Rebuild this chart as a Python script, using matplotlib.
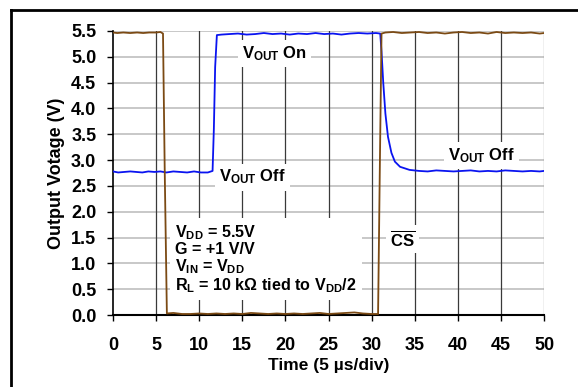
import matplotlib
matplotlib.use("Agg")
from matplotlib import pyplot as plt
from matplotlib.lines import Line2D

plt.rcParams['font.family'] = ['Liberation Sans', 'DejaVu Sans']
plt.rcParams['font.weight'] = 'bold'
plt.rcParams['mathtext.fontset'] = 'custom'
plt.rcParams['mathtext.rm'] = 'Liberation Sans:bold'
plt.rcParams['mathtext.bf'] = 'Liberation Sans:bold'
plt.rcParams['mathtext.it'] = 'Liberation Sans:bold'

# CS input (brown)
cs_t = [0, 0.5, 1.2, 2, 2.8, 3.5, 4.2, 5, 5.5, 5.8, 6.0, 6.25, 7, 8, 9, 10, 11, 12, 13,
        14, 15, 16, 17, 18, 19, 20, 21, 22, 23, 24, 25, 26, 27, 28, 29, 30, 30.75,
        30.95, 31.15, 31.6, 32.5, 33.5, 34.5, 35.5, 36.5, 37.5, 38.5, 39.5, 40.5,
        41.5, 42.5, 43.5, 44.5, 45.5, 46.5, 47.5, 48.5, 49.5, 50]
cs_v = [5.47, 5.46, 5.47, 5.46, 5.47, 5.46, 5.47, 5.47, 5.48, 5.45, 2.8, 0.03, 0.04, 0.02,
        0.02, 0.03, 0.02, 0.03, 0.02, 0.03, 0.02, 0.04, 0.03, 0.02, 0.03, 0.02, 0.03,
        0.02, 0.03, 0.04, 0.02, 0.03, 0.04, 0.05, 0.03, 0.02, 0.02,
        2.8, 5.45, 5.47, 5.48, 5.46, 5.47, 5.48, 5.46, 5.47, 5.45, 5.47, 5.48,
        5.46, 5.47, 5.45, 5.48, 5.46, 5.47, 5.46, 5.47, 5.45, 5.46]

# Vout (blue)
vo_t = [0, 0.6, 1.3, 2, 2.7, 3.4, 4.1, 4.8, 5.5, 6.2, 7, 7.8, 8.6, 9.4, 10.2, 11, 11.55,
        11.7, 11.85, 12.05, 12.6, 13.5, 14.5, 15.5, 16.5, 17.5, 18.5, 19.5, 20.5,
        21.5, 22.5, 23.5, 24.5, 25.5, 26.5, 27.5, 28.5, 29.5, 30.5, 31.0,
        31.15, 31.35, 31.6, 31.9, 32.3, 32.7, 33.3, 34.4, 35.5, 36.5, 37.5, 38.5,
        39.5, 40.5, 41.5, 42.5, 43.5, 44.5, 45.5, 46.5, 47.5, 48.5, 49.5, 50]
vo_v = [2.78, 2.76, 2.77, 2.78, 2.77, 2.76, 2.78, 2.77, 2.78, 2.76, 2.78, 2.77, 2.76,
        2.78, 2.76, 2.76, 2.79,
        3.6, 4.8, 5.42, 5.43, 5.44, 5.45, 5.43, 5.44, 5.46, 5.44, 5.45, 5.43,
        5.45, 5.44, 5.46, 5.44, 5.45, 5.43, 5.45, 5.46, 5.45, 5.46, 5.45,
        5.1, 4.5, 3.9, 3.45, 3.14, 2.97, 2.87, 2.81, 2.79, 2.78, 2.80, 2.79,
        2.78, 2.79, 2.80, 2.78, 2.79, 2.78, 2.80, 2.79, 2.78, 2.79, 2.78, 2.79]

x_ticks = list(range(0, 55, 5))
y_ticks = [i * 0.5 for i in range(12)]

fig = plt.figure(figsize=(5.78, 3.87), dpi=100)
ax = fig.add_axes([0.1955, 0.186, 0.7457, 0.734])

for y in y_ticks[1:]:
    ax.axhline(y, color='#c8c8c8', lw=1.4, zorder=1)
for x in x_ticks[1:]:
    ax.axvline(x, color='#8a8a8a' if x == 50 else '#3a3a3a', lw=0.9, zorder=1)

ax.plot(vo_t, vo_v, color='#0a14f0', lw=1.3, zorder=3)
ax.plot(cs_t, cs_v, color='#7b4a14', lw=1.3, zorder=4)

ax.set_xlim(0, 50)
ax.set_ylim(0, 5.5)
ax.set_xticks(x_ticks)
ax.set_yticks(y_ticks)
ax.set_yticklabels([f'{v:.1f}' for v in y_ticks])
ax.tick_params(axis='both', labelsize=13, length=4, width=1, color='black')
ax.tick_params(axis='y', pad=8)
ax.tick_params(axis='x', pad=12)
for s in ['top', 'right']:
    ax.spines[s].set_visible(False)
ax.spines['left'].set_linewidth(1.2)
ax.spines['bottom'].set_linewidth(1.5)

ax.set_xlabel('Time (5 µs/div)', fontsize=12.5, fontweight='bold', labelpad=3)
ax.set_ylabel('Output Votage (V)', fontsize=13, fontweight='bold', labelpad=4)

box = dict(facecolor='white', edgecolor='none', pad=3)
ax.text(18.7, 5.07, r'$\mathbf{V_{OUT}}$ On', fontsize=12, ha='center', va='center',
        bbox=box, zorder=5)
ax.text(12.3, 2.67, r'$\mathbf{V_{OUT}}$ Off', fontsize=12, ha='left', va='center',
        bbox=box, zorder=5)
ax.text(38.9, 3.08, r'$\mathbf{V_{OUT}}$ Off', fontsize=12, ha='left', va='center',
        bbox=box, zorder=5)
ax.text(32.1, 1.47, r'$\overline{\mathbf{CS}}$', fontsize=12, ha='left', va='center',
        bbox=box, zorder=5)
ax.text(7.2, 1.08,
        r'$\mathbf{V_{DD}}$ = 5.5V' + '\n' + 'G = +1 V/V' + '\n' +
        r'$\mathbf{V_{IN}}$ = $\mathbf{V_{DD}}$' + '\n' +
        r'$\mathbf{R_{L}}$ = 10 kΩ tied to $\mathbf{V_{DD}}$/2',
        fontsize=11.6, ha='left', va='center', linespacing=1.0,
        bbox=dict(facecolor='white', edgecolor='none', pad=4), zorder=5)

fig.add_artist(Line2D([11 / 578, 11 / 578], [0, 1 - 10 / 387], color='black', lw=2,
                      transform=fig.transFigure))
fig.add_artist(Line2D([11 / 578, 1], [1 - 10 / 387, 1 - 10 / 387], color='black', lw=2,
                      transform=fig.transFigure))

fig.savefig('out.png', dpi=100)
